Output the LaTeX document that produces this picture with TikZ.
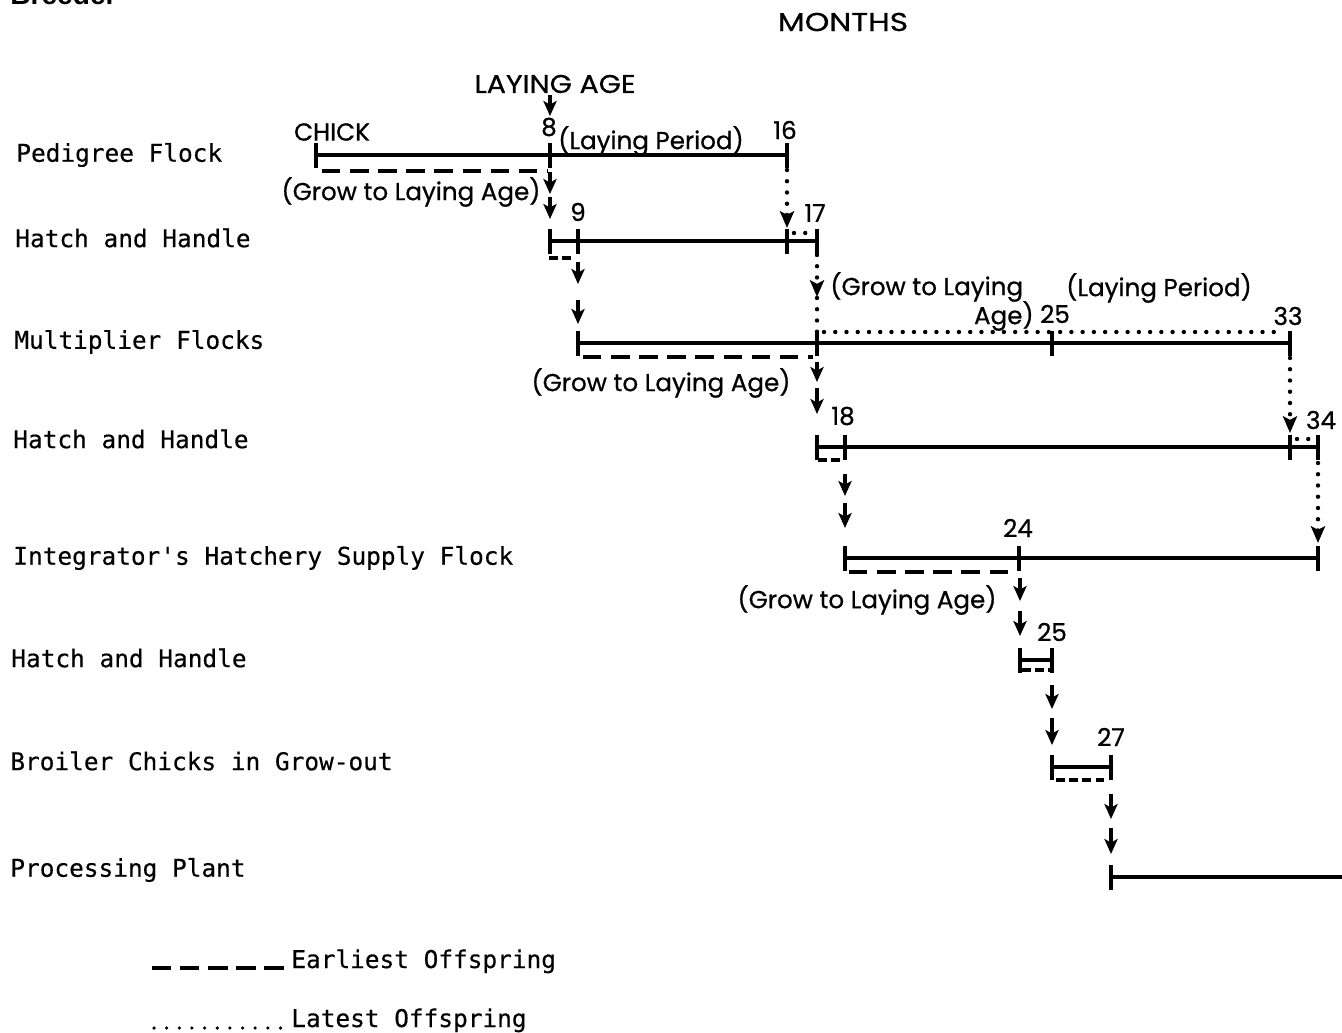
\documentclass[tikz,border=0pt]{standalone}
\usepackage{graphicx}
\usepackage{fontspec}
\setmainfont{Poppins}[FakeBold=0.7]
\newfontfamily\monof{DejaVu Sans Mono}[FakeBold=0.4]
\newfontfamily\headf{Liberation Sans}
\usetikzlibrary{arrows.meta,calc}
\tikzset{
  tl/.style={line width=2pt},
  tk/.style={line width=2.3pt},
  early/.style={line width=2pt, dash pattern=on 10.5pt off 5.5pt},
  shortdash/.style={line width=2pt, dash pattern=on 5pt off 2.5pt},
  late/.style={line width=2.5pt, line cap=round, dash pattern=on 0pt off 6.4pt},
  arr/.style={line width=1.9pt, -{Stealth[length=8.5pt,width=7.5pt,inset=2pt]}},
  darr/.style={late, -{Stealth[length=9.5pt,width=8pt,inset=2pt]}},
  lab/.style={font=\fontsize{14}{16}\selectfont, inner sep=0pt},
  rowlab/.style={font=\monof\fontsize{13.9}{16}\selectfont, anchor=west, inner sep=0pt},
}
\newcommand\tickat[1]{\draw[tk] (#1) ++(0,-12) -- ++(0,25);}
\begin{document}
\begin{tikzpicture}[x=0.02cm,y=-0.02cm]
\useasboundingbox (0,0) rectangle (1342,1033);
% cut-off heading at the top edge
\node[font=\headf\bfseries\fontsize{16}{18}\selectfont, anchor=base west, inner sep=0pt] (head) at (10,5) {Breeder};
\node[lab] (months) at (843,22) {\scalebox{1.27}[1.05]{MONTHS}};

% row labels
\node[rowlab] (r1) at (16,155) {Pedigree Flock};
\node[rowlab] (r2) at (15,238) {Hatch and Handle};
\node[rowlab] (r3) at (14,342) {Multiplier Flocks};
\node[rowlab] (r4) at (13,439) {Hatch and Handle};
\node[rowlab] (r5) at (13,558) {Integrator's Hatchery Supply Flock};
\node[rowlab] (r6) at (11,658) {Hatch and Handle};
\node[rowlab] (r7) at (10,761) {Broiler Chicks in Grow-out};
\node[rowlab] (r8) at (10,870) {Processing Plant};

% timeline points
\coordinate (a0) at (316,155);  \coordinate (a8) at (550,155);  \coordinate (a16) at (787,155);
\coordinate (b8) at (550,241);  \coordinate (b9) at (578,241);  \coordinate (b16) at (787,241); \coordinate (b17) at (817,241);
\coordinate (c9) at (578,343);  \coordinate (c17) at (817,343); \coordinate (c25) at (1052,343); \coordinate (c33) at (1290,343);
\coordinate (d17) at (817,447); \coordinate (d18) at (845,447); \coordinate (d33) at (1290,447); \coordinate (d34) at (1318,447);
\coordinate (e18) at (845,558); \coordinate (e24) at (1019,558); \coordinate (e34) at (1318,558);
\coordinate (f24) at (1020,660); \coordinate (f25) at (1052,660);
\coordinate (g25) at (1052,767); \coordinate (g27) at (1111,767);
\coordinate (h27) at (1111,877); \coordinate (hend) at (1342,877);

% Pedigree flock
\draw[tl] (a0) -- (a16);
\tickat{a0}\tickat{a8}\tickat{a16}
\draw[early] (a0) ++(6,16) -- ($(a8)+(-3,16)$);
\node[lab] (laying) at (555,84) {\scalebox{1.16}[1.04]{LAYING AGE}};
\draw[arr] (a8) ++(0,-60) -- ++(0,21);
\node[lab] (chick) at (332,132) {CHICK};
\node[lab] (n8) at (549,127) {8};
\node[lab] (lp1) at (651,141) {(Laying Period)};
\node[lab] (n16) at (785,130) {16};
\node[lab] (g1) at (411,192) {(Grow to Laying Age)};
\draw[arr] (a8) ++(0,17) -- ++(0,22);
\draw[arr] (a8) ++(0,42) -- ++(0,22);
\draw[darr] (a16) ++(0,15) -- ++(0,58);
\node[lab] (n9) at (578,212) {9};
\node[lab] (n17) at (815,213) {17};

% Hatch and handle 1
\draw[tl] (b8) -- (b17);
\tickat{b8}\tickat{b9}\tickat{b16}\tickat{b17}
\draw[shortdash] (b8) ++(-1,17) -- ($(b9)+(-4,17)$);
\draw[late] (b16) ++(7,-8) -- ($(b17)+(-4,-8)$);
\draw[arr] (b9) ++(0,21) -- ++(0,22);
\draw[arr] (b9) ++(0,59) -- ++(0,24);
\draw[darr] (b17) ++(0,14) -- ++(0,42);
\draw[late] (b17) ++(0,57) -- ($(c17)+(0,-10)$);
\node[lab, anchor=west] (g2a) at (830,287) {(Grow to Laying};
\node[lab, anchor=east] (g2b) at (1034,316) {Age)};
\node[lab] (lp2) at (1159,288) {(Laying Period)};
\node[lab] (n25a) at (1055,314) {25};
\node[lab] (n33) at (1288,316) {33};

% Multiplier flocks
\draw[tl] (c9) -- (c33);
\tickat{c9}\tickat{c17}\tickat{c25}\tickat{c33}
\draw[early] (c9) ++(5,14) -- ($(c17)+(-4,14)$);
\draw[late] (c17) ++(7,-11) -- ($(c33)+(-5,-11)$);
\node[lab] (g3) at (661,383) {(Grow to Laying Age)};
\draw[arr] (c17) ++(0,19) -- ++(0,20);
\draw[arr] (c17) ++(0,45) -- ++(0,26);
\draw[darr] (c33) ++(0,15) -- ++(0,75);
\node[lab] (n18) at (843,416) {18};
\node[lab] (n34) at (1321,420) {34};

% Hatch and handle 2
\draw[tl] (d17) -- (d34);
\tickat{d17}\tickat{d18}\tickat{d33}\tickat{d34}
\draw[shortdash] (d17) ++(1,13) -- ($(d18)+(-2,13)$);
\draw[late] (d33) ++(7,-8) -- ($(d34)+(-4,-8)$);
\draw[arr] (d18) ++(0,27) -- ++(0,22);
\draw[arr] (d18) ++(0,56) -- ++(0,25);
\draw[darr] (d34) ++(0,16) -- ++(0,80);
\node[lab] (n24) at (1018,528) {24};

% Integrator's hatchery supply flock
\draw[tl] (e18) -- (e34);
\tickat{e18}\tickat{e24}\tickat{e34}
\draw[early] (e18) ++(4,14) -- ($(e24)+(-4,14)$);
\node[lab] (g5) at (867,600) {(Grow to Laying Age)};
\draw[arr] (e24) ++(1,20) -- ++(0,23);
\draw[arr] (e24) ++(1,53) -- ++(0,25);
\node[lab] (n25b) at (1052,632) {25};

% Hatch and handle 3
\draw[tl] (f24) -- (f25);
\tickat{f24}\tickat{f25}
\draw[shortdash] (f24) ++(2,10) -- ($(f25)+(-2,10)$);
\draw[arr] (f25) ++(0,25) -- ++(0,24);
\draw[arr] (f25) ++(0,58) -- ++(0,27);
\node[lab] (n27) at (1111,737) {27};

% Broiler chicks
\draw[tl] (g25) -- (g27);
\tickat{g25}\tickat{g27}
\draw[shortdash] (g25) ++(4,13) -- ($(g27)+(-3,13)$);
\draw[arr] (g27) ++(0,27) -- ++(0,25);
\draw[arr] (g27) ++(0,61) -- ++(0,26);

% Processing plant
\draw[tl] (h27) -- (hend);
\tickat{h27}

% legend
\coordinate (le1) at (152,968); \coordinate (le2) at (288,968);
\coordinate (ll1) at (154,1028); \coordinate (ll2) at (288,1028);
\draw[early, dash pattern=on 11pt off 5pt] (le1) -- (le2);
\draw[late, line width=2pt, dash pattern=on 0pt off 7.2pt] (ll1) -- (ll2);
\node[rowlab, anchor=base west] (leg1) at (291,968) {Earliest Offspring};
\node[rowlab, anchor=base west] (leg2) at (291,1027) {Latest Offspring};
\end{tikzpicture}
\end{document}
